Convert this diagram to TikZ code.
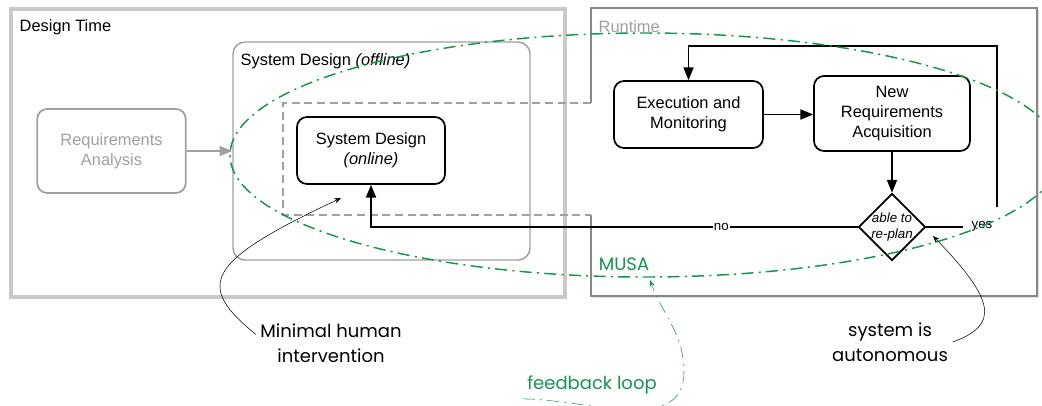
\documentclass[tikz,border=0pt]{standalone}
\usepackage{fontspec}
\setmainfont{Liberation Sans}
\newfontfamily\handfont{Poppins}
\usepackage{tikz}
\usetikzlibrary{shapes.geometric}
\usetikzlibrary{arrows.meta}
\usetikzlibrary{shadows}
\definecolor{musagreen}{RGB}{20,150,80}
\definecolor{boxgray}{RGB}{200,200,200}
\definecolor{edgegray}{RGB}{135,135,135}
\definecolor{textgray}{RGB}{160,160,160}

\begin{document}
\begin{tikzpicture}[x=0.75pt, y=-0.75pt,
        every node/.style={font=\fontsize{12.3}{15}\selectfont, align=center},
        stepbox/.style={draw, line width=1.3pt, rounded corners=7.5pt, inner sep=2pt},
        arrowline/.style={line width=1.2pt, -{Triangle[length=9.5pt, width=7.5pt]}},
        edgelabel/.style={font=\fontsize{10}{12}\selectfont, inner sep=1pt},
        hand/.style={font=\handfont\fontsize{13.5}{18.75}\selectfont},
        note/.style={thin, -{Stealth[length=5pt, width=4pt]}},
        loopline/.style={musagreen, dash pattern=on 9pt off 4pt on 1.5pt off 4pt}]
            \useasboundingbox (0,0) rectangle (1042,405);
            \clip (0,0) rectangle (1042,405);
            % design time
            \draw[boxgray, line width=2.4pt, fill=white, drop shadow={shadow xshift=1.2pt, shadow yshift=-1.2pt, opacity=0.35}] (11,9) rectangle (565,297);
            \node[anchor=west] (dtlabel) at (15,27) {Design Time};
            \node[draw=textgray, line width=1.1pt, rounded corners=9pt, minimum width=222.75pt, minimum height=163.5pt] (offline) at (381.5,151) {};
            \node[anchor=west] (offlabel) at (236,61) {System Design \textit{(offline)}};
            \node[stepbox, draw=textgray, text=textgray, minimum width=111.4pt, minimum height=63pt] (reqan) at (111.5,151) {Requirements\\Analysis};
            \draw[arrowline, textgray] (reqan) -- (offline.west);
            % runtime, open where the online design reaches in
            \draw[edgegray, line width=1.2pt, fill=white, drop shadow={shadow xshift=1.2pt, shadow yshift=-1.2pt, opacity=0.35}] (591,215) -- (591,296) -- (1037,296) -- (1037,8) -- (591,8) -- (591,103);
            \node[anchor=west, text=textgray] (rtlabel) at (594,27) {Runtime};
            \draw[textgray, line width=1.1pt, dash pattern=on 6pt off 3.5pt] (591,103) -- (283,103) -- (283,215) -- (591,215);
            \node[stepbox, minimum width=111pt, minimum height=50.25pt] (online) at (371,150.5) {System Design\\\textit{(online)}};
            \node[stepbox, minimum width=111.75pt, minimum height=50.25pt] (exec) at (688.5,114.5) {Execution and\\Monitoring};
            \node[stepbox, minimum width=117pt, minimum height=56.25pt] (newreq) at (892,113.5) {New\\Requirements\\Acquisition};
            \node[diamond, draw, line width=1.3pt, minimum width=50.25pt, minimum height=50.25pt, inner sep=0pt,
                label={[font=\fontsize{10}{12}\selectfont\itshape, align=center]center:able to\\re-plan}] (replan) at (892,227) {};
            \draw[arrowline] (exec.east) -- (exec.east -| newreq.west);
            \draw[arrowline] (newreq) -- (replan);
            \draw[arrowline] (replan.west) -- node[edgelabel, fill=white, pos=0.28] (nolbl) {no} (online.south |- replan.west) -- (online.south);
            \draw[line width=1.2pt] (replan.east) -- ++(37,0) coordinate (yesend);
            \node[edgelabel] (yeslbl) at (982,226) {yes};
            \draw[arrowline] (997,207) coordinate (yestop) -- (997,46) -- (exec.north |- 0,46) -- (exec.north);
            % MUSA loop
            \draw[loopline, line width=1.1pt] (645,155) ellipse [x radius=415, y radius=122];
            \node[hand, text=musagreen] (musa) at (624,264) {MUSA};
            \node[hand, text=musagreen] (fbloop) at (592,385) {feedback loop};
            \coordinate (musatip) at (650,280);
            \draw[loopline, thin, -{Stealth[length=5pt, width=4pt]}] (fbloop.south west) to[out=0, in=-90] (684,372) to[out=90, in=-70] (musatip);
            % notes
            \node[hand] (minhuman) at (331,343) {Minimal human\\intervention};
            \coordinate (humantip) at (341,198);
            \draw[note] ([yshift=6.5pt]minhuman.west) .. controls (195,285) and (205,262) .. (humantip);
            \node[hand] (autonomous) at (890,342) {system is\\autonomous};
            \coordinate (autotip) at (933,236);
            \draw[note] (autonomous.east) .. controls (1000,325) and (995,300) .. (autotip);
            %\node[hand] at (520,20) {};
        \end{tikzpicture}
\end{document}
